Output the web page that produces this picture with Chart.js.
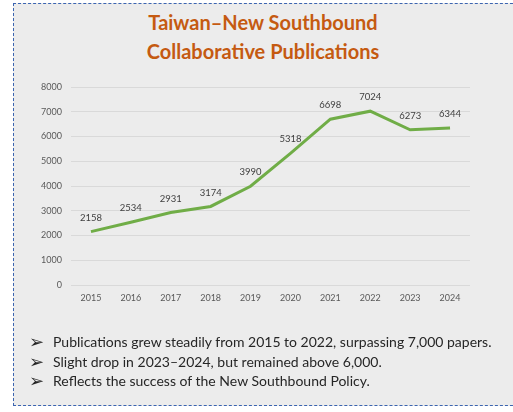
<!DOCTYPE html>
<html>
<head>
<meta charset="utf-8">
<script src="https://cdn.jsdelivr.net/npm/chart.js@4"></script>
<style>
  html, body { margin:0; padding:0; background:#ffffff; width:513px; height:412px; overflow:hidden; }
  #box { position:absolute; left:13px; top:3px; width:510px; height:403px; background:#ececec;
         border:1px dashed #3b64b0; box-sizing:border-box; }
  #title { position:absolute; left:13px; width:500px; top:8px; text-align:center; font-family:Lato, sans-serif;
           font-weight:bold; font-size:20px; line-height:29px; color:#c55a11; }
  #bullets { position:absolute; left:29px; top:332px; font-family:Lato, sans-serif; font-size:14px; color:#262626; line-height:19.5px; }
  #bullets div { white-space:nowrap; }
  #bullets span.a { display:inline-block; width:24px; font-family:"DejaVu Sans", sans-serif; font-size:18px; line-height:14px; vertical-align:-1px; }
  canvas { position:absolute; left:0; top:0; }
</style>
</head>
<body>
<div id="box"></div>
<div id="title">Taiwan–New Southbound<br>Collaborative Publications</div>
<div style="position:absolute;left:0;top:0;width:513px;height:412px;"><canvas id="c" width="513" height="412"></canvas></div>
<div id="bullets">
  <div><span class="a">➢</span>Publications grew steadily from 2015 to 2022, surpassing 7,000 papers.</div>
  <div><span class="a">➢</span>Slight drop in 2023–2024, but remained above 6,000.</div>
  <div><span class="a">➢</span>Reflects the success of the New Southbound Policy.</div>
</div>
<script>
const years = ['2015','2016','2017','2018','2019','2020','2021','2022','2023','2024'];
const publications = [2158, 2534, 2931, 3174, 3990, 5318, 6698, 7024, 6273, 6344];
const yTicks = [0, 1000, 2000, 3000, 4000, 5000, 6000, 7000, 8000];

const labelPlugin = {
  id: 'pointLabels',
  afterDatasetsDraw(chart) {
    const ctx = chart.ctx;
    const meta = chart.getDatasetMeta(0);
    ctx.save();
    ctx.font = '9.5px Lato, sans-serif';
    ctx.fillStyle = '#404040';
    ctx.textAlign = 'center';
    ctx.textBaseline = 'middle';
    meta.data.forEach((pt, i) => {
      ctx.fillText(String(publications[i]), pt.x, pt.y - 14);
    });
    ctx.restore();
  }
};

new Chart(document.getElementById('c'), {
  type: 'line',
  data: {
    labels: years,
    datasets: [{
      data: publications,
      borderColor: '#70ad47',
      borderWidth: 3,
      pointRadius: 0,
      tension: 0,
      fill: false
    }]
  },
  options: {
    responsive: false,
    animation: false,
    devicePixelRatio: 1,
    layout: { padding: { left: 20, right: 43, top: 87, bottom: 107 } },
    plugins: { legend: { display: false }, tooltip: { enabled: false } },
    scales: {
      x: {
        offset: true,
        grid: { display: false, drawTicks: false },
        border: { display: false },
        ticks: { font: { family: 'Lato', size: 9 }, color: '#595959', padding: 8, maxRotation: 0 },
        afterFit(s) { s.height = 20; }
      },
      y: {
        min: 0, max: 8000,
        afterBuildTicks(s) { s.ticks = yTicks.map(v => ({ value: v })); },
        grid: { color: '#d9d9d9', lineWidth: 1, drawTicks: false },
        border: { display: false },
        ticks: { font: { family: 'Lato', size: 9 }, color: '#595959', padding: 9, callback: v => String(v) },
        afterFit(s) { s.width = 51; }
      }
    }
  },
  plugins: [labelPlugin]
});
</script>
</body>
</html>
